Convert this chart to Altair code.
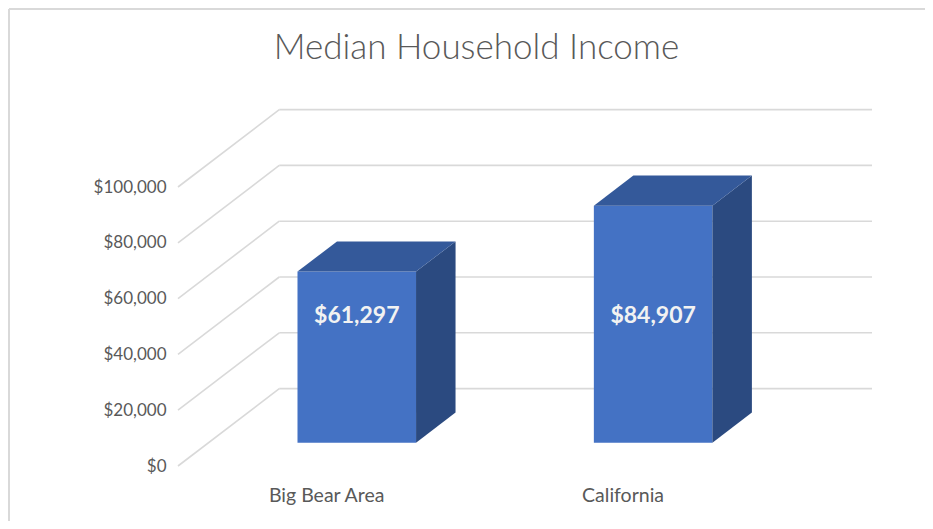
import altair as alt
import pandas as pd

# ---- data -------------------------------------------------------------
categories = ["Big Bear Area", "California"]
incomes = [61297, 84907]
tick_values = [0, 20000, 40000, 60000, 80000, 100000]
title_text = "Median Household Income"

# ---- oblique 3D projection parameters ----------------------------------
DX = 0.3417      # depth vector, x part (category-slot units)
DY = 27742       # depth vector, y part (dollar units)
BAR_W = 0.40     # bar width as fraction of slot
D0, D1 = 0.302, 0.692   # bar front / back depth fractions
LABEL_LEVEL = 45500     # height of value labels on the front face
X_MAX = len(categories) + DX
Y_MAX = 131183
PLOT_W, PLOT_H = 694, 366

FRONT = "#4472C4"
TOP = "#34599A"
SIDE = "#2B4A80"
GRID = "#D9D9D9"
TEXT = "#595959"
FONT = "Lato"

xs = alt.Scale(domain=[0, X_MAX], nice=False, zero=False)
ys = alt.Scale(domain=[0, Y_MAX], nice=False, zero=False)

# gridlines: diagonal floor-to-back + back-wall horizontals
grid_rows = []
for t in tick_values:
    grid_rows.append(dict(x=0, x2=DX, y=t, y2=t + DY))
    grid_rows.append(dict(x=DX, x2=len(categories) + DX, y=t + DY, y2=t + DY))
grid_df = pd.DataFrame(grid_rows)

front_rows, side_rows, top_rows, label_rows = [], [], [], []
for i, (c, v) in enumerate(zip(categories, incomes)):
    xl = i + 0.5 - BAR_W / 2
    xr = i + 0.5 + BAR_W / 2
    front_rows.append(dict(cat=c, x=xl + D0 * DX, x2=xr + D0 * DX,
                           y=D0 * DY, y2=v + D0 * DY))
    for d in (D0, D1):
        side_rows.append(dict(cat=c, x=xr + d * DX, y=d * DY, y2=v + d * DY))
        top_rows.append(dict(cat=c, y=v + d * DY, x=xl + d * DX, x2=xr + d * DX))
    label_rows.append(dict(cat=c, x=i + 0.5 + D0 * DX,
                           y=min(LABEL_LEVEL, v * 0.75) + D0 * DY,
                           label=f"${v:,.0f}"))

front_df = pd.DataFrame(front_rows)
side_df = pd.DataFrame(side_rows)
top_df = pd.DataFrame(top_rows)
label_df = pd.DataFrame(label_rows)

axis_y = alt.Axis(values=tick_values, format="$,.0f", grid=False, ticks=False,
                  domain=False, labelPadding=12, labelFontSize=17,
                  labelColor=TEXT, labelFont=FONT, title=None)
label_expr = "datum.value < 1 ? '" + categories[0] + "' : '" + categories[1] + "'"
axis_x = alt.Axis(values=[0.5, 1.5], labelExpr=label_expr, grid=False,
                  ticks=False, domain=False, labelPadding=20, labelFontSize=19.5,
                  labelColor=TEXT, labelFont=FONT, title=None)

grid = alt.Chart(grid_df).mark_rule(color=GRID, strokeWidth=1.6).encode(
    x=alt.X("x:Q", scale=xs, axis=axis_x),
    x2="x2:Q",
    y=alt.Y("y:Q", scale=ys, axis=axis_y),
    y2="y2:Q",
)

front = alt.Chart(front_df).mark_rect(color=FRONT).encode(
    x=alt.X("x:Q", scale=xs), x2="x2:Q",
    y=alt.Y("y:Q", scale=ys), y2="y2:Q",
)

side = alt.Chart(side_df).mark_area(color=SIDE, orient="vertical").encode(
    x=alt.X("x:Q", scale=xs),
    y=alt.Y("y:Q", scale=ys), y2="y2:Q",
    detail="cat:N",
)

top = alt.Chart(top_df).mark_area(color=TOP, orient="horizontal").encode(
    y=alt.Y("y:Q", scale=ys),
    x=alt.X("x:Q", scale=xs), x2="x2:Q",
    detail="cat:N",
)

labels = alt.Chart(label_df).mark_text(
    font=FONT, fontSize=23, fontWeight="bold", color="#F2F2F2",
    align="center", baseline="middle",
).encode(
    x=alt.X("x:Q", scale=xs), y=alt.Y("y:Q", scale=ys), text="label:N",
)

title = alt.Chart(pd.DataFrame({"t": [title_text]})).mark_text(
    font=FONT, fontSize=35, fontWeight=300, color=TEXT,
    align="center", baseline="middle",
).encode(x=alt.value(298.5), y=alt.value(-52), text="t:N")

border = alt.Chart(pd.DataFrame({"k": [0]})).mark_rule(
    color=GRID, strokeWidth=2
).encode(x=alt.value(-169), x2=alt.value(PLOT_W + 60), y=alt.value(-91))
border_l = alt.Chart(pd.DataFrame({"k": [0]})).mark_rule(
    color=GRID, strokeWidth=2
).encode(x=alt.value(-169), y=alt.value(-91), y2=alt.value(PLOT_H + 60))

chart = alt.layer(border, border_l, grid, front, side, top, labels, title).properties(
    width=PLOT_W,
    height=PLOT_H,
    background="white",
    autosize=alt.AutoSizeParams(type="none"),
    padding={"left": 170, "top": 92, "right": 53, "bottom": 55},
).configure_view(strokeWidth=0)

chart.save("out.html", embed_options={"renderer": "svg", "actions": False})
